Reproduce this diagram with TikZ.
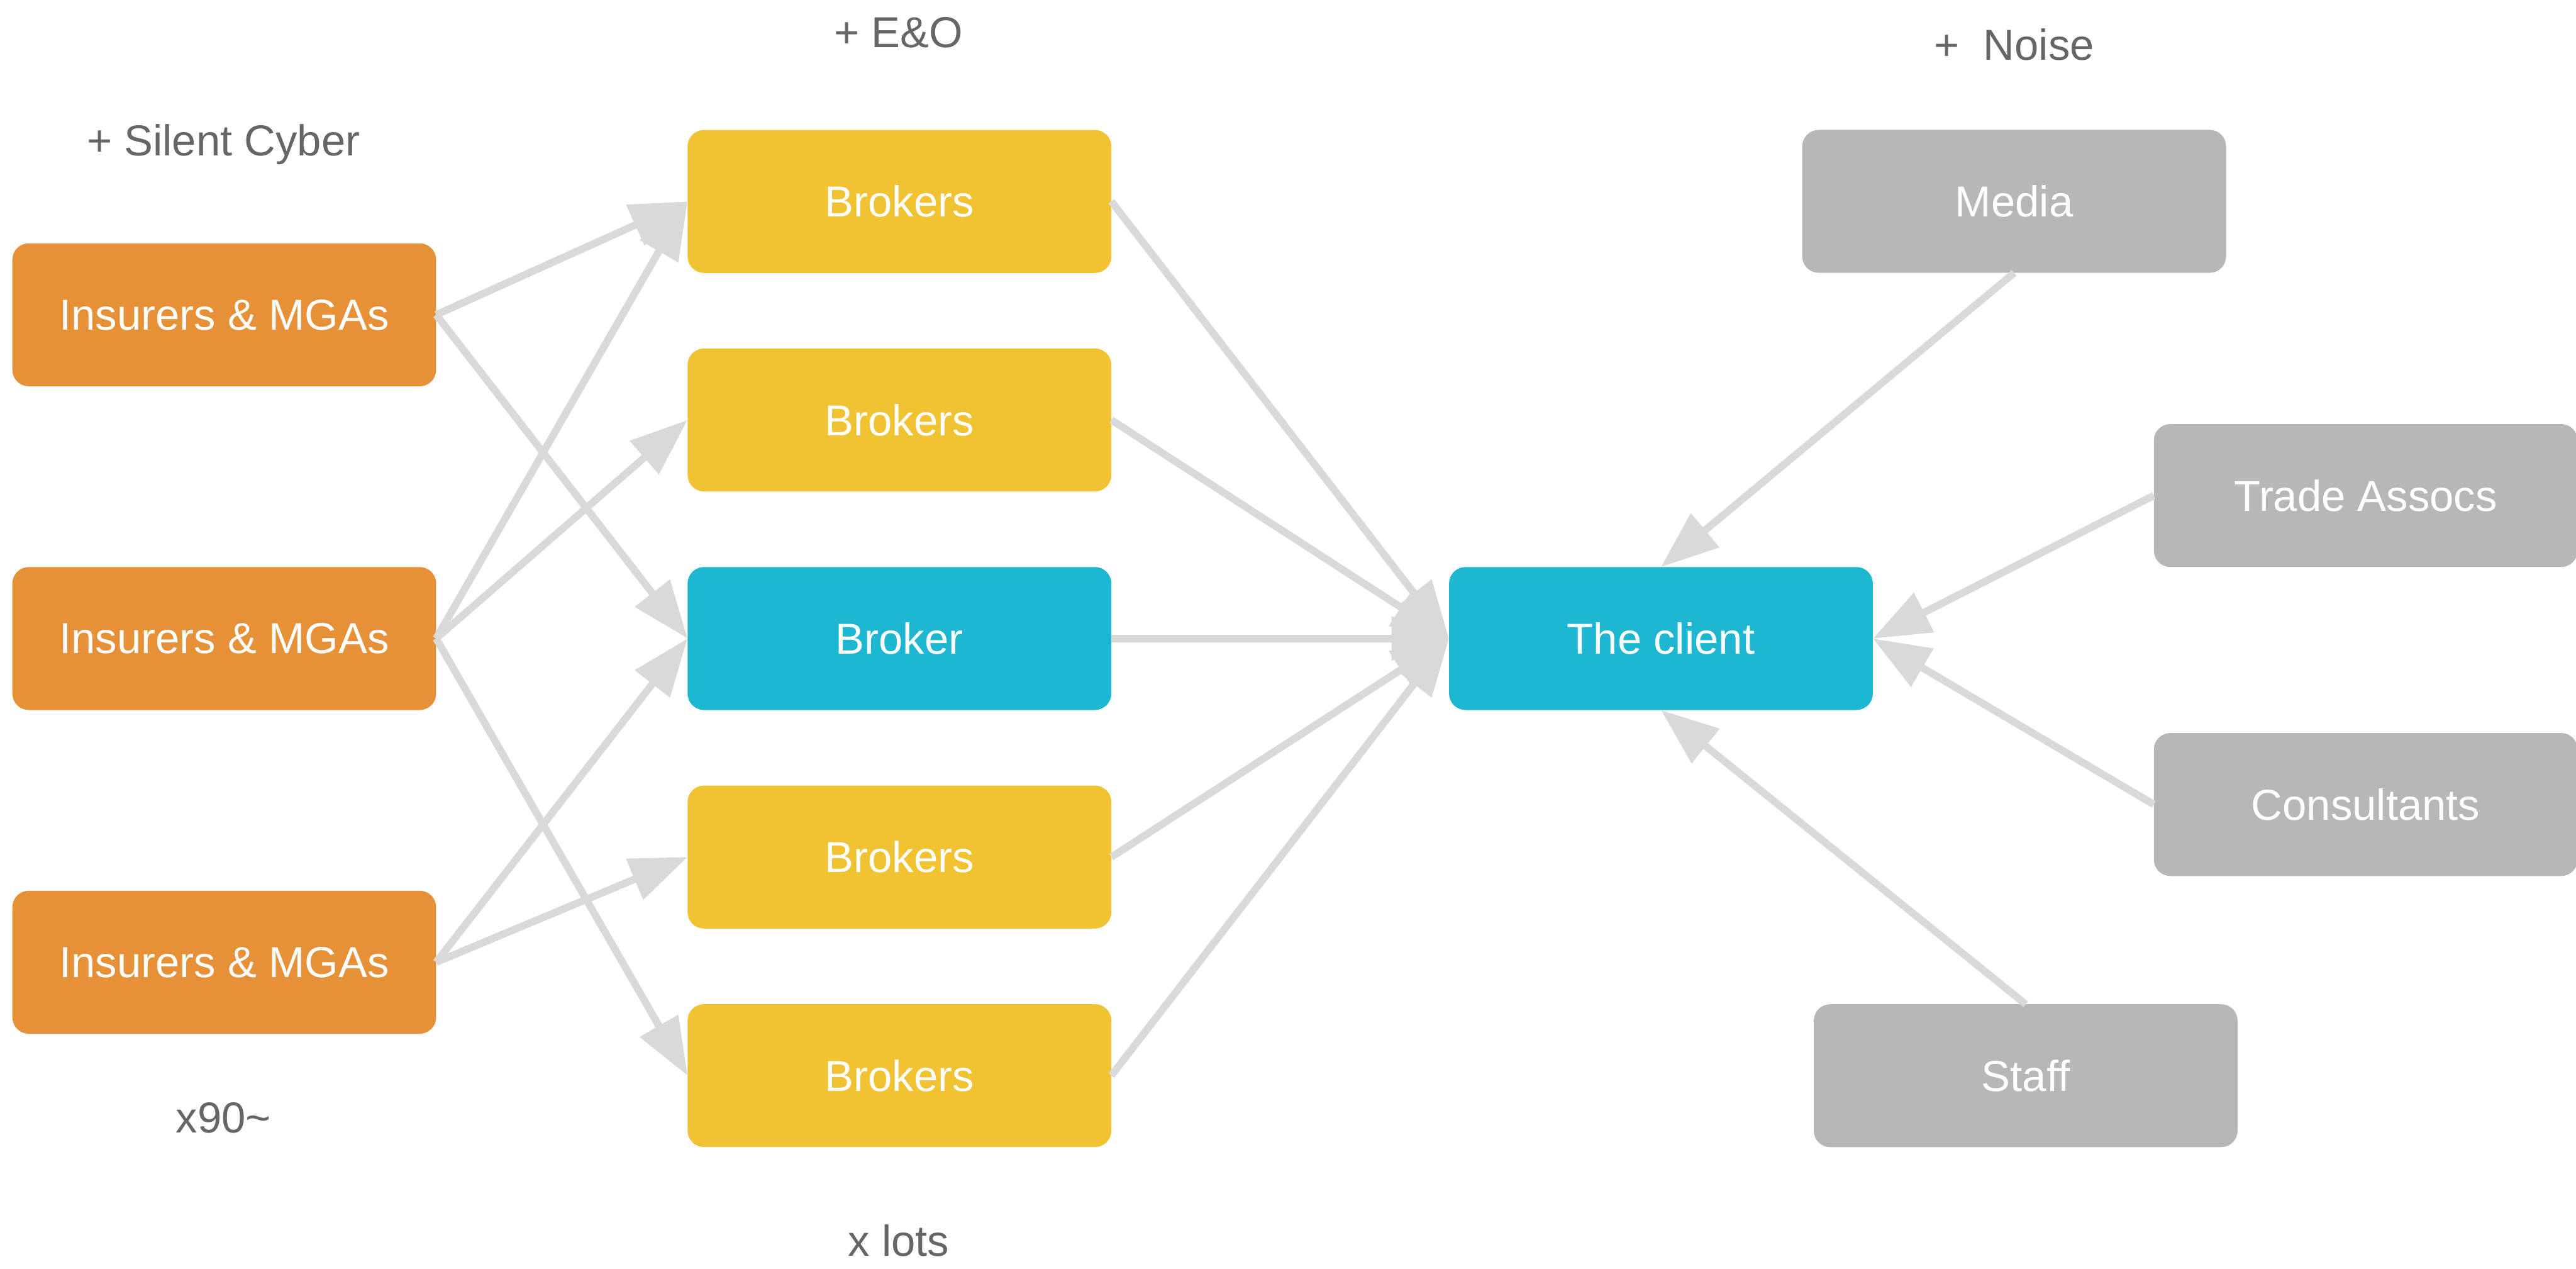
\documentclass[tikz,border=0pt]{standalone}
\usepackage{fontspec}
\setmainfont{Liberation Sans}
\usetikzlibrary{shapes,arrows.meta,positioning}

\definecolor{insorange}{HTML}{E69138}
\definecolor{brkyellow}{HTML}{F1C232}
\definecolor{mainblue}{HTML}{1DB7D1}
\definecolor{noisegray}{HTML}{B7B7B7}
\definecolor{arrowgray}{HTML}{D9D9D9}
\definecolor{notegray}{HTML}{666666}

\begin{document}
\begin{tikzpicture}[x=0.02cm, y=-0.02cm, node distance=2.66cm, font=\fontsize{15}{18}\selectfont]

        % styles
        \tikzstyle{box} = [rectangle, rounded corners=0.2cm, minimum width=5.16cm, minimum height=1.74cm, text centered, text=white, outer sep=0pt]
        \tikzstyle{insurer} = [box, fill=insorange]
        \tikzstyle{broker} = [box, fill=brkyellow]
        \tikzstyle{focus} = [box, fill=mainblue]
        \tikzstyle{noise} = [box, fill=noisegray]
        \tikzstyle{note} = [text=notegray]
        \tikzstyle{arrow} = [line width=0.09cm, draw=arrowgray, -{Triangle[length=0.7cm, width=0.52cm, fill=arrowgray]}]

        \useasboundingbox (0,0) rectangle (1568,772);

        % nodes
        \node (ins2) [insurer] at (136.5,388.5) {Insurers \& MGAs};
        \node (ins1) [insurer, above of=ins2, node distance=3.94cm] {Insurers \& MGAs};
        \node (ins3) [insurer, below of=ins2, node distance=3.94cm] {Insurers \& MGAs};

        \node (brk3) [focus] at (547.5,388.5) {Broker};
        \node (brk2) [broker, above of=brk3] {Brokers};
        \node (brk1) [broker, above of=brk2] {Brokers};
        \node (brk4) [broker, below of=brk3] {Brokers};
        \node (brk5) [broker, below of=brk4] {Brokers};

        \node (client) [focus] at (1011,388.5) {The client};
        \node (media) [noise] at (1226,122.5) {Media};
        \node (trade) [noise] at (1440,301.5) {Trade Assocs};
        \node (cons) [noise] at (1440,489.5) {Consultants};
        \node (staff) [noise] at (1233,654.5) {Staff};

        \node (silent) [note] at (136,88) {+ Silent Cyber};
        \node (eo) [note] at (547,20) {+ E\&O};
        \node (noisetxt) [note] at (1226,27) {+\ \ Noise};
        \node (count) [note] at (136,680) {x90\textasciitilde};
        \node (lots) [note] at (547,755) {x lots};

        % connections
        \draw [arrow] (ins1.east) -- (brk1.west);
        \draw [arrow] (ins1.east) -- (brk3.west);
        \draw [arrow] (ins2.east) -- (brk1.west);
        \draw [arrow] (ins2.east) -- (brk2.west);
        \draw [arrow] (ins2.east) -- (brk5.west);
        \draw [arrow] (ins3.east) -- (brk3.west);
        \draw [arrow] (ins3.east) -- (brk4.west);

        \draw [arrow] (brk1.east) -- (client.west);
        \draw [arrow] (brk2.east) -- (client.west);
        \draw [arrow] (brk3.east) -- (client.west);
        \draw [arrow] (brk4.east) -- (client.west);
        \draw [arrow] (brk5.east) -- (client.west);

        \draw [arrow] (media.south) -- (client.north);
        \draw [arrow] (trade.west) -- (client.east);
        \draw [arrow] (cons.west) -- (client.east);
        \draw [arrow] (staff.north) -- (client.south);

    \end{tikzpicture}
\end{document}
